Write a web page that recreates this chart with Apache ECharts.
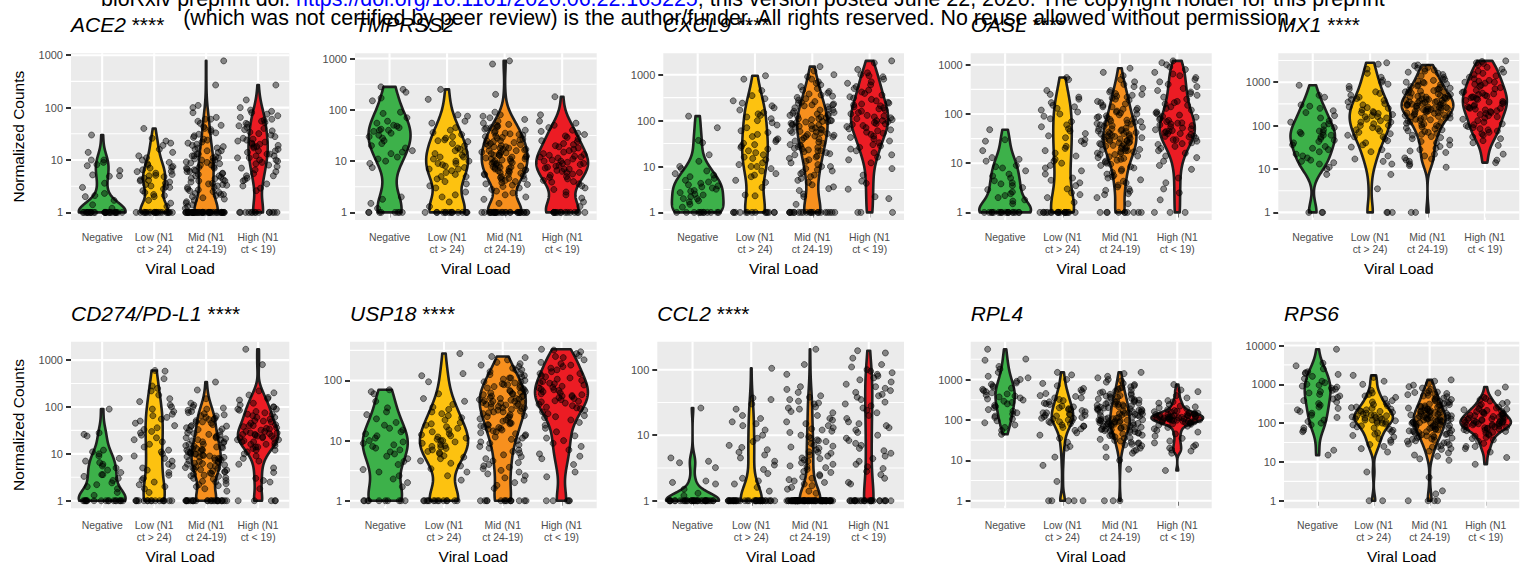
<!DOCTYPE html>
<html>
<head>
<meta charset="utf-8">
<title>Host gene expression by viral load</title>
<script src="https://cdn.jsdelivr.net/npm/echarts@6/dist/echarts.min.js"></script>
<style>
  html, body { margin: 0; padding: 0; background: #ffffff; }
  #chart { width: 1528px; height: 573px; }
</style>
</head>
<body>
<div id="chart"></div>
<script>
// ---------- categories, labels ----------
const groupLabels = ['Negative', 'Low (N1\nct > 24)', 'Mid (N1\nct 24-19)', 'High (N1\nct < 19)'];
const geneNames = ['ACE2', 'TMPRSS2', 'CXCL9', 'OASL', 'MX1', 'CD274/PD-L1', 'USP18', 'CCL2', 'RPL4', 'RPS6'];
const significance = ['****', '', '****', '****', '****', '****', '****', '****', '', ''];
const xTitle = 'Viral Load';
const yTitle = 'Normalized Counts';

// ---------- normalized counts per sample ----------
const ace2Neg = [1,1,1,1,1,1,1,1,1,1, 1,1,1,1,1,1,1,1,1,1, 1,1,1,1,1,1,
  1.2,1.4,1.7,2,2.1,2.3,3,3.6,4.9,5,5.2,6.3,7.8,8.2,9,10,10,14,30];
const ace2Low = [1,1,1,1,1,1,1,1,1,1, 1,1,1,1,1,1,1,1,1,1, 1,1,
  1.3,1.5,1.7,2,2.1,2.2,2.4,2.6,2.8,3,3.1,3.2,3.4,3.6,3.8,4,4.1,4.2,4.5,4.8,5,5.1,5.3,5.6,6,6.1,6.5,7,7.2,7.5,8,8.5,9,10,11,12,14,16,19,21,23,26,40];
const ace2Mid = [1,1,1,1,1,1,1,1,1,1, 1,1,1,1,1,1,1,1,1,1, 1,1,1,1,1,1,1,1,1,1, 1,1,1,1,1,1,1,1,1,1, 1,1,1,1,1,
  1.2,1.3,1.4,1.5,1.6,1.7,1.8,1.9,2,2.1, 2.2,2.2,2.3,2.4,2.5,2.6,2.7,2.8,3,3, 3.2,3.3,3.4,3.5,3.6,3.8,4,4,4.2,4.4,
  4.5,4.7,5,5,5.3,5.5,5.6,6,6,6.3, 6.5,6.7,7,7,7.2,7.5,8,8,8.5,8.8, 9,9.2,9.5,10,10,10.5,11,11,11.5,12,
  12,13,13,14,15,15,16,17,17,18, 19,20,21,22,24,25,27,29,31,33, 35,38,40,43,46,50,55,60,60,65, 80,100,110,270,780];
const ace2High = [1,1,1,1,1,1,1,1,1,1, 1,1,1,1,
  2.6,2.9,3.2,3.5,4,4.2,4.5,5,5,5.5, 6,6.5,7,7.5,8,8.5,9,9.5,10,10, 11,11,12,12,13,13,14,15,15,16,
  17,18,18,19,20,20,21,22,23,24, 25,26,28,30,32,34,36,38,40,42, 45,48,50,52,55,58,60,65,70,75, 80,85,90,100,140,270];

const tmprss2Neg = [1,1,1,1,1,1,1,1,
  1.2,1.5,1.8,2,7.5,9,10,11,12,14, 15,16,18,20,22,25,28,30,32,35, 38,40,40,42,45,48,50,55,60,70, 85,90,150,170,220,250,280];
const tmprss2Low = [1,1,1,1,1,1,1,1,1,1, 1,1,1,1,1,
  1.3,1.6,2,2.2,2.5,3,3.3,3.6,4,4.5, 5,5,5.5,6,6.5,7,7,7.5,8,8.5, 9,9,10,10,11,12,12,13,14,15,
  16,17,18,20,22,24,25,26,28,30, 33,36,40,45,55,60,75,80,160,250];
const tmprss2Mid = [1,1,1,1,1,1,1,1,1,1, 1,1,1,1,1,1,1,1,1,1, 1,1,1,1,1,1,1,1,1,1,
  1.5,1.8,2,2.2,2.4,2.6,2.8,3,3.2,3.4, 3.5,3.6,3.8,4,4.2,4.4,4.5,4.6,4.8,5, 5.2,5.4,5.5,5.6,5.8,6,6.2,6.4,6.5,6.6,
  6.8,7,7.2,7.4,7.5,7.6,7.8,8,8.3,8.6, 9,9,9.3,9.6,10,10,10.5,11,11,11, 11.5,12,12,12.5,13,13,13,14,14,14.5,
  15,15,16,16,16.5,17,17,18,18,19, 19,20,20,21,22,22,23,24,25,25, 26,27,28,29,30,31,32,33,34,35,
  36,38,40,42,44,45,46,48,50,52, 55,60,65,70,75,80,90,200,780,900];
const tmprss2High = [1,1,1,1,1,1,1,1,1,1, 1,1,1,1,1,
  1.3,1.6,1.9,2.2,2.5,2.8,3,3.3,3.6,3.9, 4,4.2,4.5,4.8,5,5.3,5.6,6,6,6.3, 6.6,7,7,7.3,7.6,8,8.3,8.6,9,9,
  9.5,10,10,10.5,11,11.5,12,12,12.5,13, 13.5,14,15,16,17,18,19,20,21,22, 24,25,27,29,31,33,35,38,40,45, 50,55,60,80,180];

const cxcl9Neg = [1,1,1,1,1,1,1,1,1,1, 1,1,
  1.3,1.5,1.7,1.8,2,2,2.2,2.4,2.5,2.7, 2.9,3,3.2,3.4,3.6,3.8,4,4.3,4.6,5, 5.5,6,6.5,7,8,9,10,13,18,33, 37,70,125];
const cxcl9Low = [1,1,1,1,1,1,1,1,1,1, 1,1,1,1,
  2.3,2.4,3.5,4.5,5,6,6.5,7,8,9, 10,10,11,12,14,15,16,18,20,22, 24,26,28,30,32,35,38,40,45,50,
  55,60,70,80,90,100,110,120,130,140, 150,170,190,210,240,270,300,350,450,800, 950];
const cxcl9Mid = [1,1,1,1,1,1,1,1,1,1, 1,1,1,1,1,1,1,1,1,1, 1,1,
  1.5,2.2,2.5,3,3.3,3.6,4,4.5,5,5.5, 6,6.5,7,7.5,8,8.5,9,10,10,11, 12,13,14,15,16,17,18,19,20,21,
  22,22,23,24,25,26,27,28,29,30, 32,34,36,38,40,42,44,45,46,48, 50,52,54,55,56,58,60,63,65,66,
  69,72,75,78,80,81,84,87,90,93, 95,96,100,100,105,110,110,115,120,125, 130,130,135,140,145,150,160,170,170,180,
  190,200,210,220,220,230,240,250,260,280, 300,320,340,360,380,400,430,460,500,550, 600,650,700,800,900,1000,1200,1500];
const cxcl9High = [1,1,1,
  2,2.2,3.2,4.3,4.8,6.5,9,12,14,16, 18,20,22,24,26,28,30,33,36,40, 43,46,50,53,56,60,63,66,70,74,
  78,82,85,86,90,95,100,100,105,110, 115,120,125,130,140,150,160,170,180,190, 200,210,220,230,240,250,270,290,310,330,
  360,390,420,460,500,550,600,650,700,800, 900,950,1000,1100,1300,1800,2000];

const oaslNeg = [1,1,1,1,1,1,1,1,1,1, 1,1,1,1,1,1,1,1,
  1.5,1.7,1.8,2,2.2,2.4,2.6,2.9,3.2,3.5, 3.8,4,4.4,5,5.5,6,7,8,8.5,9, 11,12,13,18,28,30,48];
const oaslLow = [1,1,1,1,1,1,1,1,1,1, 1,1,1,1,1,1,1,1,
  1.6,2,2.3,2.5,3,3.5,4,4.5,5,6, 7,8,9,10,11,12,14,16,18,20, 22,25,28,30,33,36,40,45,50,55,
  60,70,80,90,100,110,120,130,140,150, 170,200,220,250,300,500,550];
const oaslMid = [1,1,1,1,1,1,1,1,1,1,
  1.5,2,2.3,2.4,2.7,2.8,3,3.3,3.6,4, 4.3,4.6,5,5.3,5.6,6,6.5,7,7.5,8, 8.5,9,9.5,10,10.5,11,11.5,12,12.5,13,
  13.5,14,15,15,16,16,17,17,18,18, 19,19,20,20,21,22,22,23,24,24, 25,26,26,27,28,28,29,30,30,31,
  32,33,34,35,35,36,37,38,39,40, 40,42,43,44,45,46,48,50,50,52, 54,56,58,60,62,64,65,66,68,70,
  72,75,78,80,84,85,88,92,96,100, 105,110,115,120,125,130,140,140,150,160, 170,180,190,200,210,220,230,240,250,260,
  280,300,330,360,400,450,500,600,700,850];
const oaslHigh = [1,1,1,
  1.8,2.5,3,4,5,7.5,9,11,13,14, 16,18,20,22,24,25,26,28,30,30, 32,34,35,36,38,40,40,42,44,45,
  46,48,50,52,55,58,60,63,65,66, 70,74,78,82,86,90,95,100,105,110, 120,130,140,150,160,170,180,200,220,240,
  260,280,300,330,360,400,450,500,550,600, 650,700,800,900,1000,1100,1200];

const mx1Neg = [1,1,1,
  7.5,10,11,13,14,15,16,18,20,22, 25,28,30,33,36,40,43,46,50,55, 60,60,65,70,70,75,80,90,100,110,
  120,130,150,170,200,220,250,280,300,450, 500,850];
const mx1Low = [1,1,1,
  3.5,7.5,13,15,17,20,25,28,32,36, 40,45,50,55,55,60,65,70,75,80, 85,90,100,100,110,120,120,130,140,150,
  160,160,170,180,190,200,200,210,230,250, 260,270,300,320,350,380,400,420,450,500, 550,600,700,800,900,1000,1100,1300,1600,2000,
  2600,2800];
const mx1Mid = [1,1,
  11,12,13,15,16,17,18,20,22,24, 26,28,30,33,36,40,43,46,50,53, 56,60,63,66,70,73,76,80,84,88,
  92,96,100,104,108,113,118,121,127,130, 136,140,145,150,150,154,160,163,170,174, 178,183,188,192,197,200,205,212,216,221,
  225,232,236,240,247,250,250,256,262,268, 271,277,283,290,296,300,307,312,318,324, 330,336,342,348,355,361,370,380,390,400,
  400,410,422,430,441,452,460,472,480,493, 500,520,540,561,580,600,600,622,641,660, 683,700,730,760,790,820,850,880,920,960,
  1000,1000,1050,1100,1150,1200,1300,1400,1500,1600, 1700,1800,1900,2000,2100,2200,2400,2500];
const mx1High = [14,16,22,35,40,45,50,55,60,65, 70,75,80,85,90,95,100,105,110,120, 130,140,150,160,170,180,190,200,210,220,
  230,240,250,250,260,270,280,300,320,340, 350,360,380,400,420,440,450,460,480,500, 520,540,560,580,600,650,700,750,800,850,
  900,950,1000,1000,1050,1100,1200,1300,1400,1500, 1600,1700,1800,2000,2200,2500,2700,2800,3000,3100];

const cd274Neg = [1,1,1,1,1,1,1,1,1,1, 1,1,1,1,1,1,1,1,
  1.3,1.5,1.8,2,2.2,2.4,2.7,3,3.3,3.6, 3.6,4,4.5,5,5.5,6,6.5,7,8,9, 10,11,12,24,26,28,90];
const cd274Low = [1,1,1,1,1,1,1,1,1,1, 1,1,1,1,1,1,
  1.5,1.8,2,2.2,2.5,2.8,3,3.5,4,4.5, 5,5.5,6,7,8,9,10,11,12,14, 16,18,20,22,25,28,30,33,36,40,
  45,50,55,60,65,70,80,90,100,110, 130,150,180,220,250,280,400,580,600];
const cd274Mid = [1,1,1,1,1,1,1,1,1,1, 1,1,1,1,1,1,1,1,1,1, 1,1,1,1,1,
  1.6,1.8,2,2.1,2.2,2.3,2.5,2.6,2.7,2.9, 3,3.1,3.3,3.4,3.5,3.7,3.8,3.9,4.1,4.2, 4.3,4.5,4.6,4.7,4.9,5,5.1,5.3,5.5,5.6,
  5.8,6,6.2,6.3,6.6,6.8,6.9,7.2,7.4,7.5, 7.8,8,8.1,8.4,8.6,8.7,9,9.2,9.4,9.8, 10,10,10.5,11,11,11.5,12,12,12.5,13,
  13,13.5,14,14,14.5,15,16,16,17,18, 18,19,20,20,21,22,22,23,24,25, 26,27,28,30,32,33,34,36,38,39,
  40,42,45,47,48,51,54,55,57,60, 64,65,68,72,76,80,85,90,95,100, 110,120,150,230,340];
const cd274High = [1,1,1,1,1,
  1.8,2.5,2.7,3,4,5,6,7,8,9, 10,11,12,12,13,14,14,15,16,16, 17,18,18,19,20,20,21,22,22,23,
  24,24,25,26,26,27,28,28,30,30, 32,34,35,36,38,40,40,42,45,48, 50,51,55,60,60,65,70,70,75,80,
  85,90,90,100,100,110,120,140,150,160, 180,200,220,800,1700];

const usp18Neg = [1,1,1,1,1,1,1,1,1,1,
  1.7,2,2.3,2.6,3,3.3,4,4.5,5,5.5, 6,6.5,7,7.5,8,8.5,9,9.5,10,11, 12,13,14,15,16,18,20,23,27,30, 35,45,60,65,70];
const usp18Low = [1,1,1,1,1,1,1,1,1,1, 1,1,1,1,
  2.2,2.6,3,3.4,3.8,4.2,4.6,5,5.3,5.6, 6,6.3,6.6,7,7.4,7.8,8,8.2,8.6,9, 9.5,10,10,10.5,11,11.5,12,12.5,13,14,
  15,16,17,18,19,20,22,24,26,28, 30,33,36,40,45,50,60,95,120,130, 280];
const usp18Mid = [1,1,1,1,1,1,1,1,1,1, 1,1,1,1,
  1.6,1.8,2,2.2,2.4,2.6,2.8,3,3.2,3.4, 3.6,3.8,4,4.3,4.6,5,5.4,5.8,6.2,6.6, 7,7.5,8,8.5,9,9.5,10,10.5,11,11.5,
  12,12.5,13,13.5,14,14.5,15,15.5,16,16.5, 17,17.5,18,18.5,19,19.5,20,21,22,23, 24,25,25,26,27,28,29,30,30,31,
  32,33,34,35,35,36,37,38,39,40, 40,41,42,43,44,45,45,46,47,48, 49,50,50,52,54,55,56,58,60,60,
  62,64,65,66,68,70,73,75,76,79, 82,85,85,88,91,95,95,100,105,110, 110,115,120,125,130,140,150,150,160,170,
  180,190,200,220,240,250];
const usp18High = [1,1,1,1,1,
  2.5,3,4,5,5.5,6,7,8,9,10, 11,12,14,16,18,20,22,24,25,26, 28,30,32,34,35,36,38,40,42,44,
  45,46,48,50,52,54,55,56,58,60, 62,65,68,70,71,74,77,80,84,88, 90,92,96,100,105,110,115,120,130,130,
  140,150,160,170,180,190,200,220,240,250, 260,280,300,320,330];

const ccl2Neg = [1,1,1,1,1,1,1,1,1,1, 1,1,1,1,1,1,1,1,1,1, 1,1,1,1,1,1,1,1,1,1, 1,1,1,1,
  1.2,1.3,1.5,1.8,1.9,2,3.2,3.8,4,4.5,26];
const ccl2Low = [1,1,1,1,1,1,1,1,1,1, 1,1,1,1,1,1,1,1,1,1, 1,1,1,1,1,1,1,1,1,1, 1,1,1,1,1,1,
  1.4,1.6,1.8,2,2.2,2.6,3,3.5,4,4.5, 5,5.5,6,6.5,7,8,9,10,12,14, 15,16,18,20,25,30,35,37,105];
const ccl2Mid = [1,1,1,1,1,1,1,1,1,1, 1,1,1,1,1,1,1,1,1,1, 1,1,1,1,1,1,1,1,1,1, 1,1,1,1,1,1,1,1,1,1,
  1,1,1,1,1,1,1,1,1,1, 1,1,1,1,1,1,1,1,1,1, 1,1,1,1,1,1,1,1,1,1,
  1.3,1.4,1.5,1.6,1.7,1.8,1.9,2,2.1,2.2, 2.3,2.4,2.5,2.7,2.8,3,3.2,3.3,3.4,3.6, 3.8,4,4.2,4.4,4.5,4.8,5,5.3,5.5,5.6,
  6,6.3,6.6,6.8,7,7.5,8,8.2,8.5,9, 9.5,10,11,11.5,12,12.5,13,14,15,16, 17,18,20,22,23,25,26,27,30,31,
  33,35,38,40,45,50,55,85,120,205];
const ccl2High = [1,1,1,1,1,1,1,1,1,1, 1,1,1,1,1,1,1,1,1,1, 1,1,1,1,1,
  1.8,1.9,2.2,2.5,2.8,3.1,3.3,3.6,4,4.4, 4.8,5.3,5.8,6.3,7,7.5,8.3,9,10,11, 12,13,14,15,16,18,20,22,24,26,
  28,30,32,35,38,40,42,45,48,52, 55,60,65,70,75,80,85,90,95,100, 110,120,150,180,195];

const rpl4Neg = [44,55,65,75,85,95,105,115,125,140, 150,165,180,200,215,230,250,270,290,310,
  330,350,370,390,410,440,470,500,530,570, 610,650,700,760,820,900,1000,1100,1200,1500, 1800,2100,3000,3200,5600];
const rpl4Low = [1,1,1,1,1,
  3,7.5,12,20,22,28,35,42,48,55, 60,65,70,70,75,80,85,90,90,95, 100,105,110,110,115,120,125,130,130,135,
  140,150,150,160,170,180,180,190,200,210, 220,240,250,260,280,300,320,350,350,380, 400,450,500,550,600,700,800,1000,1300,1500];
const rpl4Mid = [1,1,1,
  6,10,12,15, 17,18,20,21,23,24,25,26,27,28,30,31,
  33,35,36,38,40,41,42,44,45,47,48,50,51,53,54,55,57,58,59,60,61,62,
  64,66,67,69,70,72,73,75,76,78,79,80,82,84,85,87,88,90,91,93,95,96,98,100,101,103,105,107,110,112,115,118,122,
  128,131,134,137,140,143,146,150,153,156,160,164,168,172,176,180,184,188,192,197,202,207,212,218,224,230,236,242,246,250,
  258,266,274,282,290,300,310,320,330,340,352,364,376,388,400,415,430,450,470,490,
  520,545,570,600,630,660,700,750,800,860,930,1000, 1100,1200,1400,1500];
const rpl4High = [5.6,15,17,18,20,22,24,27,30,35, 40,45,50,55,60,65,70,74,78,80, 82,85,86,88,90,90,92,93,95,96,
  98,99,100,100,102,103,105,107,108,110, 111,113,114,116,117,119,120,122,123,125, 126,128,130,132,134,136,138,140,142,145,
  146,150,155,160,165,170,180,190,200,210, 220,240,260,280,300,350,400,500,550,750];

const rps6Neg = [15,20,60,65,75,90,100,110,120,140, 160,180,200,220,240,260,290,320,350,380,
  420,460,500,550,600,650,700,750,800,850, 900,950,1000,1100,1200,1400,1600,1800,1900,2000, 2100,2500,3000,3500,8000];
const rps6Low = [1,1,
  5.5,18,22,25,28,32,36,40,44,48, 52,56,60,65,70,75,80,85,90,95, 100,100,105,110,115,120,120,125,130,135,
  140,140,145,150,155,160,160,170,180,190, 200,200,210,220,230,240,250,260,280,300, 320,350,380,420,460,500,550,600,700,1000,
  1200,1500,1700];
const rps6Mid = [1,1,1,1,
  1.5,1.8,4, 11,12,14,15,17,19,
  21,22,24,25,26,28,29,31,32,34,35,36,38,39,
  41,42,44,45,47,48,50,51,53,54,56,57,59,60,62,63,65,67,69,71,73,75,77,79,
  81,83,85,87,89,91,93,95,97,99,101,103,105,107,109,111,113,115,118,120,122,124,126,128,130,133,136,139,142,145,148,151,154,157,159,
  163,167,171,175,179,183,187,191,196,200,205,210,215,220,226,232,238,244,250,257,264,271,278,285,292,300,308,316,
  330,345,360,375,390,405,420,440,460,480,500,520,540,560,580,600,615,630,
  680,740,800,870,950,1050,1200,1300];
const rps6High = [8.7,13,18,22,25,25,30,
  34,37,40,43,46,49,52,55,58,61,
  64,66,68,70,72,74,76,78,80,82,84,86,88,90,92,94,96,98,100,102,104,106,108,110,112,114,117,120,123,125,
  128,132,136,140,144,148,152,156,160,165,170,175,180,186,192,198,205,212,220,228,236,245,
  260,280,300,320,340,370,400,430,460, 600,850];

const geneGroups = [
  [ace2Neg, ace2Low, ace2Mid, ace2High],
  [tmprss2Neg, tmprss2Low, tmprss2Mid, tmprss2High],
  [cxcl9Neg, cxcl9Low, cxcl9Mid, cxcl9High],
  [oaslNeg, oaslLow, oaslMid, oaslHigh],
  [mx1Neg, mx1Low, mx1Mid, mx1High],
  [cd274Neg, cd274Low, cd274Mid, cd274High],
  [usp18Neg, usp18Low, usp18Mid, usp18High],
  [ccl2Neg, ccl2Low, ccl2Mid, ccl2High],
  [rpl4Neg, rpl4Low, rpl4Mid, rpl4High],
  [rps6Neg, rps6Low, rps6Mid, rps6High]
];

// ---------- layout & style ----------
const FONT = '"Liberation Sans", Arial, Helvetica, sans-serif';
const groupFill = ['#3DB14A', '#FDC210', '#F7901E', '#EC1C24'];
// plot panels: [left, top, width, height] in px
const panelBoxes = [
  [71, 53.3, 218.3, 166.7], [355, 53.3, 241.7, 166.7], [663.3, 53.3, 240.7, 166.7], [970.7, 53.3, 241, 166.7], [1278.3, 53.3, 241, 166.7],
  [71, 341.7, 218.3, 166.6], [350, 341.7, 246.7, 166.6], [657.3, 341.7, 246.7, 166.6], [970.7, 341.7, 241, 166.6], [1284, 341.7, 235.3, 166.6]
];
const titleTops = [12.5, 301];
const VIOLIN_WIDTH = 0.9;
const JITTER_WIDTH = 0.8;

// ---------- violin density (gaussian kernel, nrd0 bandwidth, trimmed) ----------
function quantile7(sorted, p) {
  const h = (sorted.length - 1) * p;
  const lo = Math.floor(h);
  const hi = Math.min(lo + 1, sorted.length - 1);
  return sorted[lo] + (h - lo) * (sorted[hi] - sorted[lo]);
}
function bwNrd0(x) {
  const n = x.length;
  const s = x.slice().sort((a, b) => a - b);
  const mean = x.reduce((a, b) => a + b, 0) / n;
  const sd = Math.sqrt(x.reduce((a, b) => a + (b - mean) * (b - mean), 0) / (n - 1));
  const iqr = quantile7(s, 0.75) - quantile7(s, 0.25);
  let lo = Math.min(sd, iqr / 1.34);
  if (!lo) lo = sd || Math.abs(s[0]) || 1;
  return 0.9 * lo * Math.pow(n, -0.2);
}
function densityCurve(x) {
  const n = x.length;
  const bw = bwNrd0(x);
  const min = Math.min(...x), max = Math.max(...x);
  const steps = 256;
  const ys = [], ds = [];
  const norm = 1 / (n * bw * Math.sqrt(2 * Math.PI));
  for (let j = 0; j <= steps; j++) {
    const y = min + (max - min) * j / steps;
    let s = 0;
    for (let i = 0; i < n; i++) {
      const z = (y - x[i]) / bw;
      s += Math.exp(-0.5 * z * z);
    }
    ys.push(y);
    ds.push(s * norm);
  }
  return { ys, ds };
}

// horizontal jitter: deterministic integer hash of (panel, group, sample)
function jitterOffset(a, b, c) {
  let h = (Math.imul(a + 1, 374761393) + Math.imul(b + 1, 668265263) + Math.imul(c + 1, 2246822519)) | 0;
  h = Math.imul(h ^ (h >>> 13), 1274126177);
  h ^= h >>> 16;
  return ((h >>> 0) / 4294967296 - 0.5) * JITTER_WIDTH;
}

// ---------- build option ----------
const grids = [], xAxes = [], yAxes = [], series = [], titles = [];

geneGroups.forEach((groups, gi) => {
  const box = panelBoxes[gi];
  const row = gi < 5 ? 0 : 1;
  const logs = groups.map(g => g.map(v => Math.log10(v)));
  const all = logs.flat();
  const lo = Math.min(...all), hi = Math.max(...all);
  const span = hi - lo;
  const yMin = lo - 0.05 * span, yMax = hi + 0.05 * span;
  const majors = [];
  for (let k = Math.ceil(yMin); k <= Math.floor(yMax); k++) majors.push(k);
  const minors = [];
  for (let k = Math.floor(yMin) - 0.5; k <= yMax; k += 1) if (k >= yMin) minors.push(k);

  const curves = logs.map(densityCurve);
  const maxD = Math.max(...curves.map(c => Math.max(...c.ds)));

  grids.push({ left: box[0], top: box[1], width: box[2], height: box[3], show: true,
    backgroundColor: '#EBEBEB', borderWidth: 0, containLabel: false });

  xAxes.push({
    gridIndex: gi, type: 'value', min: 0.4, max: 4.6,
    axisLine: { show: false }, splitLine: { show: false },
    axisTick: { show: true, customValues: [1, 2, 3, 4], length: 5, lineStyle: { color: '#333333', width: 2 } },
    axisLabel: { customValues: [1, 2, 3, 4], formatter: v => groupLabels[Math.round(v) - 1],
      fontFamily: FONT, fontSize: 10.4, lineHeight: 12, color: '#4D4D4D', margin: 11 },
    name: xTitle, nameLocation: 'middle', nameGap: 40,
    nameTextStyle: { fontFamily: FONT, fontSize: 15.5, color: '#000000' }
  });

  yAxes.push({
    gridIndex: gi, type: 'value', min: yMin, max: yMax,
    axisLine: { show: false }, splitLine: { show: false },
    axisTick: { show: true, customValues: majors, length: 5, lineStyle: { color: '#333333', width: 2 } },
    axisLabel: { customValues: majors, formatter: v => String(Math.round(Math.pow(10, v))),
      fontFamily: FONT, fontSize: 11, color: '#4D4D4D', margin: 8 },
    name: (gi % 5 === 0) ? yTitle : '', nameLocation: 'middle', nameRotate: 90, nameGap: 45,
    nameTextStyle: { fontFamily: FONT, fontSize: 15.5, color: '#000000' }
  });

  // panel grid lines
  const lines = [];
  minors.forEach(v => lines.push([0.4, v, 4.6, v, 1.1]));
  majors.forEach(v => lines.push([0.4, v, 4.6, v, 2.1]));
  [1, 2, 3, 4].forEach(c => lines.push([c, yMin, c, yMax, 2.1]));
  series.push({
    type: 'custom', xAxisIndex: gi, yAxisIndex: gi, silent: true, z: 1, data: lines,
    renderItem: (params, api) => {
      const p1 = api.coord([api.value(0), api.value(1)]);
      const p2 = api.coord([api.value(2), api.value(3)]);
      return { type: 'line', shape: { x1: p1[0], y1: p1[1], x2: p2[0], y2: p2[1] },
        style: { stroke: '#FFFFFF', lineWidth: api.value(4) } };
    }
  });

  // violins
  series.push({
    type: 'custom', xAxisIndex: gi, yAxisIndex: gi, silent: true, z: 2,
    data: curves.map((c, k) => [k + 1, c.ys[0]]),
    renderItem: (params, api) => {
      const k = params.dataIndex;
      const c = curves[k];
      const cat = k + 1;
      const pts = [];
      for (let j = 0; j < c.ys.length; j++) pts.push(api.coord([cat - VIOLIN_WIDTH / 2 * c.ds[j] / maxD, c.ys[j]]));
      for (let j = c.ys.length - 1; j >= 0; j--) pts.push(api.coord([cat + VIOLIN_WIDTH / 2 * c.ds[j] / maxD, c.ys[j]]));
      return { type: 'polygon', shape: { points: pts },
        style: { fill: groupFill[k], stroke: '#1F1F1F', lineWidth: 2.6, lineJoin: 'round' } };
    }
  });

  // jittered samples
  const pts = [];
  logs.forEach((l, k) => {
    l.forEach((v, i) => pts.push([k + 1 + jitterOffset(gi, k, i), v]));
  });
  series.push({
    type: 'scatter', xAxisIndex: gi, yAxisIndex: gi, silent: true, z: 3, data: pts,
    symbolSize: 6,
    itemStyle: { color: 'rgba(0,0,0,0.55)', borderColor: 'rgba(0,0,0,0.8)', borderWidth: 0.8 }
  });

  const name = geneNames[gi];
  const sig = significance[gi];
  titles.push({
    left: box[0], top: titleTops[row], padding: 0,
    text: sig ? `{g|${name}} {s|${sig}}` : `{g|${name}}`,
    textStyle: { fontFamily: FONT, fontSize: 21, fontWeight: 'normal', color: '#000', lineHeight: 24,
      rich: {
        g: { fontFamily: FONT, fontSize: 21, fontStyle: 'italic', fontWeight: 'normal', color: '#000', lineHeight: 24 },
        s: { fontFamily: FONT, fontSize: 21, fontWeight: 'normal', color: '#000', lineHeight: 24 }
      } }
  });
});

const option = {
  animation: false,
  backgroundColor: '#FFFFFF',
  textStyle: { fontFamily: FONT },
  title: titles,
  grid: grids,
  xAxis: xAxes,
  yAxis: yAxes,
  series: series,
  graphic: [
    { type: 'text', x: 743, y: -1.5, z: 100, silent: true,
      style: { text: 'bioRxiv preprint doi: {link|https://doi.org/10.1101/2020.06.22.165225}; this version posted June 22, 2020. The copyright holder for this preprint',
        font: '21.4px ' + FONT, fill: '#000000', align: 'center', verticalAlign: 'middle',
        rich: { link: { fill: '#0000FF', font: '21.4px ' + FONT } } } },
    { type: 'text', x: 739, y: 17.5, z: 100, silent: true,
      style: { text: '(which was not certified by peer review) is the author/funder. All rights reserved. No reuse allowed without permission.',
        font: '21.4px ' + FONT, fill: '#000000', align: 'center', verticalAlign: 'middle' } }
  ]
};

const chart = echarts.init(document.getElementById('chart'), null, { renderer: 'svg', width: 1528, height: 573 });
chart.setOption(option);
</script>
</body>
</html>
